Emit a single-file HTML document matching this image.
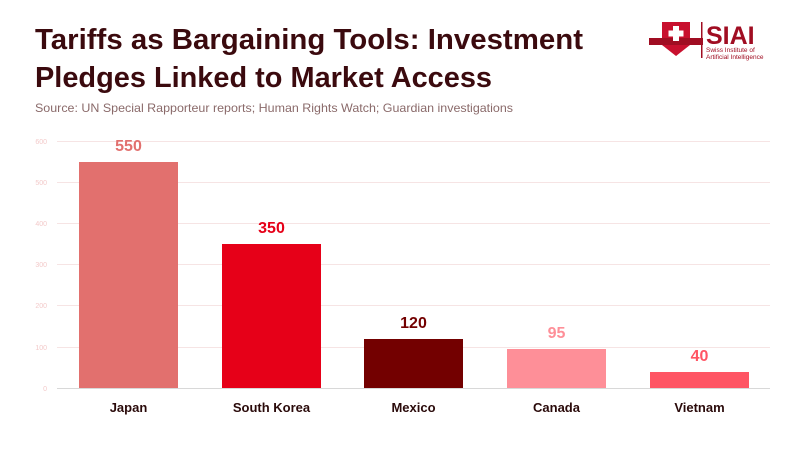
<!DOCTYPE html>
<html><head><meta charset="utf-8"><style>
body{margin:0;width:800px;height:450px;background:#fff;overflow:hidden;font-family:"Liberation Sans",sans-serif;}
</style></head><body>
<svg width="800" height="450" xmlns="http://www.w3.org/2000/svg" font-family="Liberation Sans, sans-serif">
<text x="35" y="49" font-size="29" font-weight="bold" fill="#3b0a0e" textLength="548" lengthAdjust="spacingAndGlyphs">Tariffs as Bargaining Tools: Investment</text>
<text x="35" y="87" font-size="29" font-weight="bold" fill="#3b0a0e" textLength="457" lengthAdjust="spacingAndGlyphs">Pledges Linked to Market Access</text>
<text x="35" y="112" font-size="12" fill="#8a6a6a" textLength="478" lengthAdjust="spacingAndGlyphs">Source: UN Special Rapporteur reports; Human Rights Watch; Guardian investigations</text>
<!-- logo -->
<path d="M662 22 L690 22 L690 45 Q676 56 676 56 Q662 45 662 45 Z" fill="#c8102e"/>
<rect x="649" y="38" width="54" height="7" fill="#a00d22"/>
<rect x="673" y="26" width="6" height="15" fill="#fff"/><rect x="668.5" y="30.5" width="15" height="6" fill="#fff"/>
<rect x="701" y="22" width="1.5" height="36" fill="#a00d22"/>
<text x="706" y="44" font-size="25" font-weight="bold" fill="#a00d22">SIAI</text>
<text x="706" y="52" font-size="6.5" fill="#a00d22">Swiss Institute of</text>
<text x="706" y="59" font-size="6.5" fill="#a00d22">Artificial Intelligence</text>
<!-- grid -->
<g stroke="#f6e4e4" stroke-width="1">
<line x1="57" x2="770" y1="141.5" y2="141.5"/><line x1="57" x2="770" y1="182.5" y2="182.5"/>
<line x1="57" x2="770" y1="223.5" y2="223.5"/><line x1="57" x2="770" y1="264.5" y2="264.5"/>
<line x1="57" x2="770" y1="305.5" y2="305.5"/><line x1="57" x2="770" y1="347.5" y2="347.5"/>
</g>
<line x1="57" x2="770" y1="388.5" y2="388.5" stroke="#d8d8d8"/>
<g font-size="7" fill="#f3caca" text-anchor="end">
<text x="47" y="144">600</text><text x="47" y="185">500</text><text x="47" y="226">400</text>
<text x="47" y="267">300</text><text x="47" y="308">200</text><text x="47" y="350">100</text><text x="47" y="391">0</text>
</g>
<rect x="79" y="162" width="99" height="226" fill="#e2706e"/>
<rect x="222" y="244" width="99" height="144" fill="#e60018"/>
<rect x="364" y="339" width="99" height="49" fill="#730000"/>
<rect x="507" y="349" width="99" height="39" fill="#fe8f98"/>
<rect x="650" y="372" width="99" height="16" fill="#ff5564"/>
<g font-size="16" font-weight="bold" text-anchor="middle">
<text x="128.5" y="151" fill="#e2706e">550</text>
<text x="271.5" y="233" fill="#e60018">350</text>
<text x="413.5" y="328" fill="#730000">120</text>
<text x="556.5" y="338" fill="#fe8f98">95</text>
<text x="699.5" y="361" fill="#ff5564">40</text>
</g>
<g font-size="13" font-weight="bold" fill="#2a0a0a" text-anchor="middle">
<text x="128.5" y="412">Japan</text><text x="271.5" y="412">South Korea</text>
<text x="413.5" y="412">Mexico</text><text x="556.5" y="412">Canada</text><text x="699.5" y="412">Vietnam</text>
</g>
</svg>
</body></html>
